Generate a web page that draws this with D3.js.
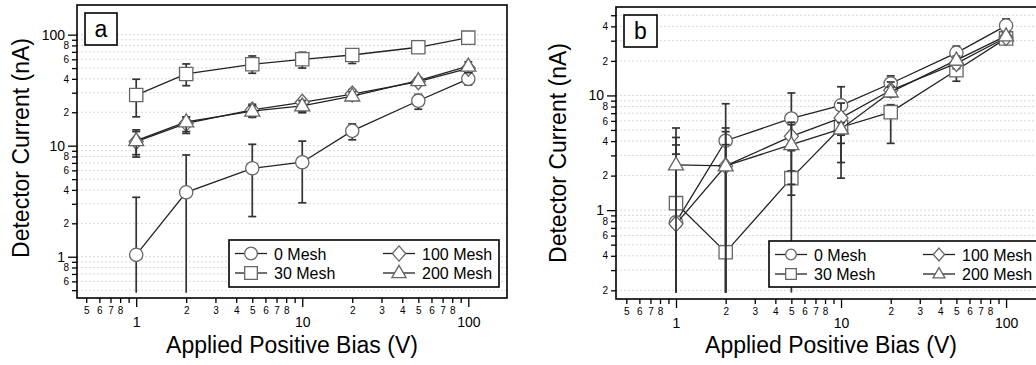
<!DOCTYPE html>
<html>
<head>
<meta charset="utf-8">
<script src="https://cdn.jsdelivr.net/npm/d3@7"></script>
<style>
  html, body { margin: 0; padding: 0; background: #fff; }
  svg { display: block; font-family: Arial, "Liberation Sans", sans-serif; }
</style>
</head>
<body>
<svg id="chart" width="1036" height="365"></svg>
<script>
// ---------- DATA ----------
const biasV = [1, 2, 5, 10, 20, 50, 100];
const seriesNames = ["0 Mesh", "30 Mesh", "100 Mesh", "200 Mesh"];
const markerTypes = ["circle", "square", "diamond", "triangle"];
const panelLabels = ["a", "b"];
const xTitle = "Applied Positive Bias (V)";
const yTitle = "Detector Current (nA)";

// Panel a
const a0Mesh     = [1.04, 3.8, 6.26, 7.1, 13.6, 25.4, 40];
const a0MeshLo   = [0.474, 0.474, 2.3, 3.06, 11.3, 21.3, 35.2];
const a0MeshHi   = [3.43, 8.25, 10.3, 11.0, 15.7, 29, 45];
const a30Mesh    = [28.6, 44.3, 54.1, 60, 65.6, 77, 94];
const a30MeshLo  = [18.2, 34.7, 44.9, 50, 55, 72, 89];
const a30MeshHi  = [39.7, 54.5, 64.3, 69.4, 74.3, 82, 99];
const a100Mesh   = [10.9, 15.9, 21, 24.6, 29.2, 37.7, 49.8];
const a100MeshLo = [8.3, 12.9, 18, 19.8, 26.5, 35, 46];
const a100MeshHi = [13.9, 18.2, 23.6, 26.3, 32, 40.5, 53];
const a200Mesh   = [11.1, 16.4, 20.5, 22.8, 28, 38.5, 52];
const a200MeshLo = [7.9, 13.4, 18.3, 20.3, 26, 35.5, 45.5];
const a200MeshHi = [13.4, 18, 23, 25.5, 30.5, 41, 57];

// Panel b
const b0Mesh     = [0.785, 4.03, 6.3, 8.2, 12.7, 23.5, 40.6];
const b0MeshLo   = [0.191, 0.191, 1.35, 3.82, 11, 21.5, 36];
const b0MeshHi   = [3.08, 8.46, 10.5, 11.9, 14.8, 26.9, 46.4];
const b30Mesh    = [1.15, 0.43, 1.9, 5.28, 7.15, 16.6, 31.4];
const b30MeshLo  = [0.191, 0.191, 0.191, 1.9, 3.82, 13.3, 29];
const b30MeshHi  = [4.3, 3.72, 2.2, 6.9, 8.3, 17.5, 34];
const b100Mesh   = [0.76, 2.43, 4.4, 6.37, 11.1, 19, 32];
const b100MeshLo = [0.191, 0.191, 1.68, 2.6, 10, 17.1, 30];
const b100MeshHi = [3.7, 5.2, 5.84, 8.58, 13.1, 21, 34];
const b200Mesh   = [2.48, 2.43, 3.72, 5.1, 10.7, 20.3, 33];
const b200MeshLo = [0.191, 0.191, 3.3, 4.5, 9.7, 18.5, 31];
const b200MeshHi = [5.2, 4.83, 5.57, 5.8, 11.8, 22, 35];

const xDomainA = [0.44, 171];
const yDomainA = [0.425, 185];
const xDomainB = [0.433, 177];
const yDomainB = [0.168, 59];

// ---------- DRAW ----------
const svg = d3.select("#chart");

const panels = [
  {
    label: panelLabels[0],
    left: 77, right: 507, top: 5, bottom: 298,
    xDomain: xDomainA, yDomain: yDomainA,
    series: [
      [a0Mesh, a0MeshLo, a0MeshHi],
      [a30Mesh, a30MeshLo, a30MeshHi],
      [a100Mesh, a100MeshLo, a100MeshHi],
      [a200Mesh, a200MeshLo, a200MeshHi]
    ],
    labelBox: [85, 13, 32, 32],
    legend: [229, 240, 270, 47], legendScale: 0.95,
    yTitleX: 21, yTitleY: 148, xTitleX: 292
  },
  {
    label: panelLabels[1],
    left: 616, right: 1047, top: 7, bottom: 299,
    xDomain: xDomainB, yDomain: yDomainB,
    series: [
      [b0Mesh, b0MeshLo, b0MeshHi],
      [b30Mesh, b30MeshLo, b30MeshHi],
      [b100Mesh, b100MeshLo, b100MeshHi],
      [b200Mesh, b200MeshLo, b200MeshHi]
    ],
    labelBox: [624, 15, 33, 32],
    legend: [769, 241, 272, 46], legendScale: 0.8,
    yTitleX: 558, yTitleY: 153, xTitleX: 831
  }
];

function logTicks(domain) {
  const out = [];
  const d0 = Math.floor(Math.log10(domain[0])), d1 = Math.ceil(Math.log10(domain[1]));
  for (let d = d0; d <= d1; d++) {
    for (let k = 1; k <= 9; k++) {
      const v = +(k * Math.pow(10, d)).toPrecision(6);
      if (v >= domain[0] && v <= domain[1]) out.push(v);
    }
  }
  return out;
}
function mant(v) {
  const e = Math.floor(Math.log10(v) + 1e-9);
  return Math.round(v / Math.pow(10, e));
}

function markerPath(type, s) {
  s = s || 1;
  if (type === "circle") return d3.symbol(d3.symbolCircle, 139 * s * s)();
  if (type === "square") return d3.symbol(d3.symbolSquare, 177 * s * s)();
  if (type === "triangle") {
    const w = 7.5 * s, h = 13 * s;
    return `M0,${-h * 0.62}L${w},${h * 0.38}L${-w},${h * 0.38}Z`;
  }
  const w = 7 * s, h = 8 * s;
  return `M0,${-h}L${w},0L0,${h}L${-w},0Z`;
}

const LINE_COL = "#222";
const MARK_COL = "#666";
const ERR_COL = "#333";

panels.forEach((p, pi) => {
  const x = d3.scaleLog().domain(p.xDomain).range([p.left, p.right]);
  const y = d3.scaleLog().domain(p.yDomain).range([p.bottom, p.top]);
  const g = svg.append("g");

  const clipId = "clip" + pi;
  g.append("clipPath").attr("id", clipId).append("rect")
    .attr("x", p.left).attr("y", p.top)
    .attr("width", p.right - p.left).attr("height", p.bottom - p.top);

  const yt = logTicks(p.yDomain).filter(v => y(v) > p.top + 3 && y(v) < p.bottom - 3);
  const xt = logTicks(p.xDomain).filter(v => x(v) > p.left + 3 && x(v) < p.right - 3);

  // grid
  g.append("g").selectAll("line").data(yt).join("line")
    .attr("x1", p.left).attr("x2", p.right)
    .attr("y1", d => y(d)).attr("y2", d => y(d))
    .attr("stroke", "#d8d8d8").attr("stroke-width", 1)
    .attr("stroke-dasharray", "2,2");

  // Y axis
  const yAxis = d3.axisLeft(y).tickValues(yt)
    .tickFormat(v => { const k = mant(v); return k === 1 ? String(v) : ([2, 4, 6, 8].includes(k) ? String(k) : ""); })
    .tickSizeOuter(0);
  const yg = g.append("g").attr("transform", `translate(${p.left},0)`).call(yAxis);
  yg.select(".domain").remove();
  yg.selectAll(".tick line").attr("x2", d => mant(d) === 1 ? -9 : -5).attr("stroke", "#000").attr("stroke-width", 1.3);
  yg.selectAll(".tick text")
    .attr("x", d => mant(d) === 1 ? -12 : -8)
    .attr("font-size", d => mant(d) === 1 ? 14 : 10)
    .attr("fill", "#000")
    .attr("font-family", "Arial, 'Liberation Sans', sans-serif");

  // X axis
  const xAxis = d3.axisBottom(x).tickValues(xt)
    .tickFormat(v => { const k = mant(v); return k === 1 ? String(v) : (k <= 8 ? String(k) : ""); })
    .tickSizeOuter(0);
  const xg = g.append("g").attr("transform", `translate(0,${p.bottom})`).call(xAxis);
  xg.select(".domain").remove();
  xg.selectAll(".tick line").attr("y2", d => mant(d) === 1 ? 9 : 5).attr("stroke", "#000").attr("stroke-width", 1.3);
  xg.selectAll(".tick text")
    .attr("y", d => mant(d) === 1 ? 29 : 16)
    .attr("dy", 0)
    .attr("font-size", d => mant(d) === 1 ? 14 : 10)
    .attr("fill", "#000")
    .attr("font-family", "Arial, 'Liberation Sans', sans-serif");

  // series
  const plot = g.append("g").attr("clip-path", `url(#${clipId})`);
  p.series.forEach((s, si) => {
    const [vals, lo, hi] = s;
    const sg = plot.append("g");
    const pts = biasV.map((b, i) => ({ b, v: vals[i], lo: lo[i], hi: hi[i] }));
    // error bars
    const eb = sg.append("g").attr("stroke", ERR_COL).attr("stroke-width", 1.7);
    eb.selectAll("line.v").data(pts).join("line").attr("class", "v")
      .attr("x1", d => x(d.b)).attr("x2", d => x(d.b))
      .attr("y1", d => y(d.lo)).attr("y2", d => y(d.hi));
    eb.selectAll("line.ch").data(pts).join("line").attr("class", "ch")
      .attr("x1", d => x(d.b) - 4).attr("x2", d => x(d.b) + 4)
      .attr("y1", d => y(d.hi)).attr("y2", d => y(d.hi));
    eb.selectAll("line.cl").data(pts.filter(d => y(d.lo) < p.bottom - 8)).join("line").attr("class", "cl")
      .attr("x1", d => x(d.b) - 4).attr("x2", d => x(d.b) + 4)
      .attr("y1", d => y(d.lo)).attr("y2", d => y(d.lo));
    // line
    sg.append("path").datum(pts)
      .attr("d", d3.line().x(d => x(d.b)).y(d => y(d.v)))
      .attr("fill", "none").attr("stroke", LINE_COL).attr("stroke-width", 1.3);
    // markers
    sg.selectAll("path.m").data(pts).join("path").attr("class", "m")
      .attr("d", markerPath(markerTypes[si]))
      .attr("transform", d => `translate(${x(d.b)},${y(d.v)})`)
      .attr("fill", "#fff").attr("stroke", MARK_COL).attr("stroke-width", 1.3);
  });

  // frame
  g.append("rect").attr("x", p.left).attr("y", p.top)
    .attr("width", p.right - p.left).attr("height", p.bottom - p.top)
    .attr("fill", "none").attr("stroke", "#000").attr("stroke-width", 1.6);

  // panel label box
  const [bx, by, bw, bh] = p.labelBox;
  g.append("rect").attr("x", bx).attr("y", by).attr("width", bw).attr("height", bh)
    .attr("fill", "#fff").attr("stroke", "#000").attr("stroke-width", 1.6);
  g.append("text").attr("x", bx + bw / 2).attr("y", by + bh / 2 + 7.5)
    .attr("text-anchor", "middle").attr("font-size", 23).text(p.label);

  // legend
  const [lx, ly, lw, lh] = p.legend;
  const lg = g.append("g");
  lg.append("rect").attr("x", lx).attr("y", ly).attr("width", lw).attr("height", lh)
    .attr("fill", "#fff").attr("stroke", "#000").attr("stroke-width", 1.6);
  seriesNames.forEach((name, i) => {
    const col = i < 2 ? 0 : 1;
    const row = i % 2;
    const ox = lx + (col === 0 ? 6 : 154);
    const cy = ly + 13.5 + row * 19.5;
    lg.append("line").attr("x1", ox).attr("x2", ox + 32).attr("y1", cy).attr("y2", cy)
      .attr("stroke", LINE_COL).attr("stroke-width", 1.3);
    lg.append("path").attr("d", markerPath(markerTypes[i], p.legendScale))
      .attr("transform", `translate(${ox + 16},${cy})`)
      .attr("fill", "#fff").attr("stroke", MARK_COL).attr("stroke-width", 1.3);
    lg.append("text").attr("x", ox + 39).attr("y", cy + 6)
      .attr("font-size", 16).attr("fill", "#000").text(name);
  });

  // titles
  g.append("text").attr("x", p.xTitleX).attr("y", 353)
    .attr("text-anchor", "middle").attr("font-size", 23).text(xTitle);
  g.append("text")
    .attr("transform", `translate(${p.yTitleX + 8},${p.yTitleY}) rotate(-90)`)
    .attr("text-anchor", "middle").attr("font-size", 23).text(yTitle);
});
</script>
</body>
</html>
